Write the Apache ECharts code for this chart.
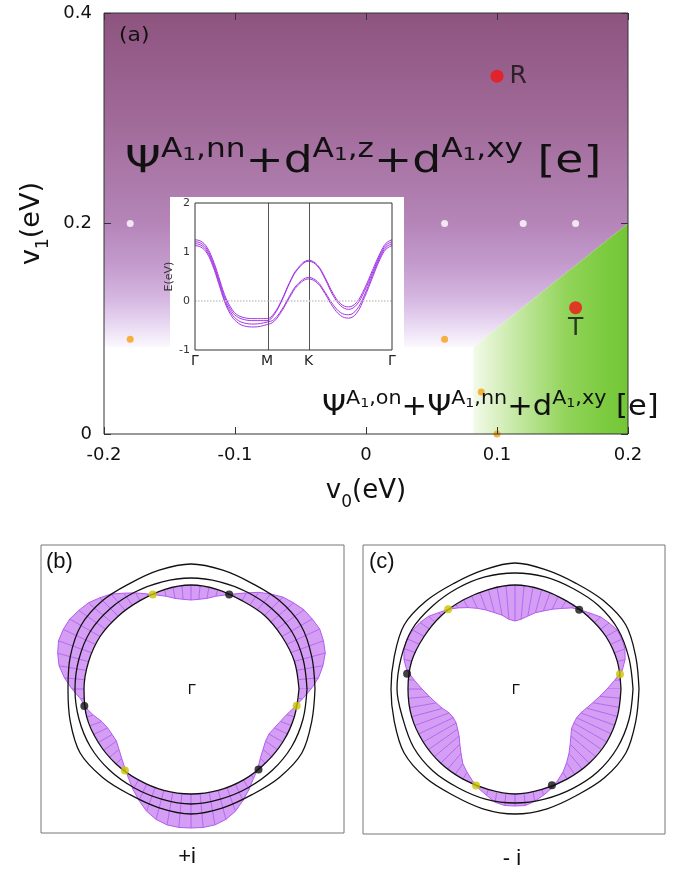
<!DOCTYPE html>
<html>
<head>
<meta charset="utf-8">
<script src="https://cdn.jsdelivr.net/npm/echarts@6/dist/echarts.min.js"></script>
<style>
html,body{margin:0;padding:0;background:#fff}
#main{width:684px;height:878px}
</style>
</head>
<body>
<div id="main"></div>
<script>
(function(){

var chart = echarts.init(document.getElementById('main'));

// ---- panel (a): phase diagram ----
var purpleV0 = [-0.2, -0.2, 0.2, 0.2, 0.082];
var purpleV1 = [0.083, 0.4, 0.4, 0.2, 0.083];
var greenV0 = [0.082, 0.082, 0.2, 0.2];
var greenV1 = [0, 0.083, 0.2, 0];
var whiteDots = [[-0.18, 0.2], [0.06, 0.2], [0.12, 0.2], [0.16, 0.2]];
var orangeDots = [[-0.18, 0.09], [0.06, 0.09], [0.088, 0.04], [0.1, 0]];
var redDots = [[0.1, 0.34], [0.16, 0.12]];
var redNames = ['R', 'T'];

// ---- inset: bands along Γ-M-K-Γ ----
var kTicks = [0, 0.366, 0.577, 1];
var kNames = ['Γ', 'M', 'K', 'Γ'];
var bandK = [0,0.03,0.06,0.09,0.12,0.15,0.18,0.21,0.25,0.30,0.366,0.40,0.44,0.48,0.52,0.577,0.62,0.66,0.70,0.74,0.78,0.82,0.86,0.90,0.94,0.97,1.0];
var bandA = [1.25,1.22,1.10,0.85,0.50,0.13,-0.12,-0.27,-0.34,-0.36,-0.36,-0.26,0.02,0.38,0.66,0.83,0.74,0.48,0.16,-0.06,-0.12,-0.03,0.25,0.62,0.98,1.18,1.25];
var bandB = [1.21,1.18,1.06,0.80,0.45,0.08,-0.17,-0.31,-0.38,-0.40,-0.40,-0.29,0.00,0.36,0.64,0.81,0.72,0.45,0.12,-0.10,-0.17,-0.08,0.20,0.57,0.94,1.14,1.21];
var bandC = [1.17,1.14,1.02,0.76,0.40,0.03,-0.22,-0.37,-0.45,-0.47,-0.43,-0.38,-0.18,0.10,0.34,0.48,0.40,0.18,-0.07,-0.24,-0.28,-0.18,0.12,0.52,0.90,1.10,1.17];
var bandD = [1.13,1.10,0.98,0.72,0.36,-0.01,-0.27,-0.42,-0.51,-0.53,-0.48,-0.42,-0.21,0.07,0.31,0.45,0.37,0.15,-0.12,-0.30,-0.35,-0.25,0.07,0.47,0.86,1.06,1.13];

// ---- panels (b),(c): Fermi contours and spin texture ----
var ang15 = [0,15,30,45,60,75,90,105,120,135,150,165,180,195,210,225,240,255,270,285,300,315,330,345];
var ang5 = [0,5,10,15,20,25,30,35,40,45,50,55,60,65,70,75,80,85,90,95,100,105,110,115,120,125,130,135,140,145,150,155,160,165,170,175,
            180,185,190,195,200,205,210,215,220,225,230,235,240,245,250,255,260,265,270,275,280,285,290,295,300,305,310,315,320,325,330,335,340,345,350,355];

var innerB = [108,108,107,107,106,106,105,105,104,104,103,103,102,102,102,103,103,104,
              104,104,103,103,102,102,102,102,103,103,104,104,105,105,106,106,107,107,
              107,107,108,108,107,107,107,106,106,106,105,105,105,105,105,105,105,105,
              105,105,105,105,105,105,105,105,105,105,106,106,106,107,107,107,107,108];
var middleB = [116,116,116,114,112,111,111,111,112,114,116,116,116,116,116,115,114,114,115,114,114,115,116,116];
var outerB = [124,125,127,125,122,123,125,123,122,125,127,125,123,125,128,125,122,123,125,123,122,125,128,125];
var spinB = [12,20,27,32,35,36,35,33,30,26,21,15,9,3,
             -2,-7,-11,-14,-15,-14,-11,-7,-2,
             3,9,15,21,26,30,33,35,36,35,32,27,20,12,4,
             -1,-7,-12,-15,-16,-15,-12,-8,-2,
             4,11,18,25,30,33,34,34,34,33,30,25,18,11,4,
             -1,-7,-12,-15,-16,-15,-12,-8,-2,4];
var blackB = [[102, 68], [108, 189], [105, 310]];
var yellowB = [[102, 112], [105, 231], [107, 351]];

var innerC = [106,106,106,106,105,105,105,104,104,103,103,103,102,102,102,103,103,104,
              104,104,104,103,103,103,103,103,104,104,105,105,105,106,106,107,107,107,
              107,107,107,107,106,106,106,106,105,105,105,105,104,104,104,104,105,105,
              105,105,104,104,104,104,104,104,105,105,105,105,106,106,106,106,106,106];
var middleC = [118,118,119,118,116,116,116,116,116,117,119,118,118,116,117,116,114,114,114,114,115,117,118,118];
var outerC = [124,125,128,125,122,123,126,123,122,125,128,125,124,125,128,126,123,124,125,124,123,126,128,125];
var spinC = [-14,-6,3,8,12,13,13,11,8,4,0,
             -4,-9,-14,-19,-24,-29,-34,-36,-34,-29,-24,-19,-14,-9,-4,
             0,4,8,11,13,13,12,8,3,
             -6,-14,-21,-27,-32,-36,-38,-38,-36,-32,-27,-21,-14,-8,-3,
             2,6,10,12,12,12,10,6,2,
             -3,-8,-14,-21,-27,-32,-36,-38,-38,-36,-32,-27,-21];
var blackC = [[102, 51], [109, 172], [103, 291]];
var yellowC = [[104, 130], [106, 8], [104, 248]];

var FONT = 'DejaVu Sans';

function regionSeries(xs, ys, fill) {
  return {
    type: 'custom', xAxisIndex: 0, yAxisIndex: 0, z: 0, silent: true, clip: false,
    data: [[xs[0], ys[0]]],
    renderItem: function (params, api) {
      var pts = xs.map(function (x, i) { return api.coord([x, ys[i]]); });
      return {type: 'polygon', shape: {points: pts}, style: {fill: fill}};
    }
  };
}

function contourSeries(radii, polarIndex) {
  var d = ang15.map(function (a, i) { return [radii[i], a]; });
  d.push([radii[0], 360]);
  return {
    type: 'line', coordinateSystem: 'polar', polarIndex: polarIndex, data: d,
    showSymbol: false, smooth: 0.35, z: 4, silent: true,
    lineStyle: {color: '#111', width: 1.3}
  };
}

function spinSeries(base, spin, polarIndex) {
  return {
    type: 'custom', coordinateSystem: 'polar', polarIndex: polarIndex, z: 3, silent: true,
    data: ang5.map(function (a, i) { return [base[i], a, spin[i]]; }),
    renderItem: function (params, api) {
      var i = params.dataIndex, n = ang5.length, j = (i + 1) % n;
      var a0 = ang5[i], a1 = j === 0 ? 360 : ang5[j];
      var p0 = api.coord([base[i], a0]), q0 = api.coord([base[i] + spin[i], a0]);
      var p1 = api.coord([base[j], a1]), q1 = api.coord([base[j] + spin[j], a1]);
      return {type: 'group', children: [
        {type: 'polygon', shape: {points: [p0, q0, q1, p1]}, style: {fill: '#d49ef5'}},
        {type: 'line', shape: {x1: p0[0], y1: p0[1], x2: q0[0], y2: q0[1]}, style: {stroke: '#b25cec', lineWidth: 0.9}},
        {type: 'line', shape: {x1: q0[0], y1: q0[1], x2: q1[0], y2: q1[1]}, style: {stroke: '#b25cec', lineWidth: 1}}
      ]};
    }
  };
}

function dotSeries(pts, color, polarIndex) {
  return {
    type: 'scatter', coordinateSystem: 'polar', polarIndex: polarIndex, z: 6, silent: true,
    symbolSize: 8, itemStyle: {color: color}, data: pts
  };
}

function bandSeries(vals) {
  return {
    type: 'line', xAxisIndex: 2, yAxisIndex: 2, z: 4, silent: true,
    showSymbol: false, smooth: 0.4,
    lineStyle: {color: '#a336e6', width: 1},
    data: bandK.map(function (k, i) { return [k, vals[i]]; })
  };
}

var inset0 = bandSeries(bandA);
inset0.markLine = {
  silent: true, symbol: 'none', label: {show: false}, animation: false,
  data: [
    {xAxis: kTicks[1], lineStyle: {color: '#555', width: 1, type: 'solid'}},
    {xAxis: kTicks[2], lineStyle: {color: '#555', width: 1, type: 'solid'}},
    {yAxis: 0, lineStyle: {color: '#c8c8c8', width: 1.5, type: 'dotted'}}
  ]
};

var subRich = {s: {fontSize: 17, verticalAlign: 'bottom', padding: [0, 0, -7, 0], fontFamily: FONT}};
var noLine = {show: false, onZero: false};

var option = {
  animation: false,
  backgroundColor: '#fff',
  grid: [
    {left: 104, top: 13, width: 524, height: 421, show: true, borderColor: '#333', borderWidth: 1, backgroundColor: 'transparent', z: 8},
    {left: 195, top: 203, width: 197, height: 147, show: true, borderColor: '#333', borderWidth: 1, backgroundColor: 'transparent', z: 8}
  ],
  xAxis: [
    {gridIndex: 0, type: 'value', min: -0.2, max: 0.2, interval: 0.1, z: 8, position: 'bottom',
     axisLine: noLine, splitLine: {show: false},
     axisTick: {inside: true, length: 7, lineStyle: {color: '#333'}},
     axisLabel: {fontSize: 18, color: '#111', margin: 12, fontFamily: FONT},
     name: 'v{s|0}(eV)', nameLocation: 'middle', nameGap: 44,
     nameTextStyle: {fontSize: 26, color: '#111', fontFamily: FONT, rich: subRich}},
    {gridIndex: 0, type: 'value', min: -0.2, max: 0.2, interval: 0.1, position: 'top', z: 8,
     axisLine: noLine, splitLine: {show: false}, axisLabel: {show: false},
     axisTick: {inside: true, length: 7, lineStyle: {color: '#333'}}},
    {gridIndex: 1, type: 'value', min: 0, max: 1, z: 8, position: 'bottom',
     axisLine: noLine, splitLine: {show: false}, axisTick: {show: false},
     axisLabel: {customValues: kTicks, fontSize: 14, color: '#222', margin: 4, fontFamily: FONT,
       showMinLabel: true, showMaxLabel: true,
       formatter: function (v) {
         var best = 0;
         kTicks.forEach(function (t, i) { if (Math.abs(t - v) < Math.abs(kTicks[best] - v)) best = i; });
         return kNames[best];
       }}}
  ],
  yAxis: [
    {gridIndex: 0, type: 'value', min: 0, max: 0.4, interval: 0.2, z: 8, position: 'left',
     axisLine: noLine, splitLine: {show: false},
     axisTick: {inside: true, length: 7, lineStyle: {color: '#333'}},
     axisLabel: {fontSize: 18, color: '#111', margin: 12, fontFamily: FONT},
     name: 'v{s|1}(eV)', nameLocation: 'middle', nameGap: 56, nameRotate: 90,
     nameTextStyle: {fontSize: 27, color: '#111', fontFamily: FONT, rich: subRich}},
    {gridIndex: 0, type: 'value', min: 0, max: 0.4, interval: 0.2, position: 'right', z: 8,
     axisLine: noLine, splitLine: {show: false}, axisLabel: {show: false},
     axisTick: {inside: true, length: 7, lineStyle: {color: '#333'}}},
    {gridIndex: 1, type: 'value', min: -1, max: 2, interval: 1, z: 8, position: 'left',
     axisLine: noLine, splitLine: {show: false}, axisTick: {show: false},
     axisLabel: {fontSize: 11, color: '#333', margin: 5, fontFamily: FONT},
     name: 'E(eV)', nameLocation: 'middle', nameGap: 16,
     nameTextStyle: {fontSize: 11, color: '#333', fontFamily: FONT}}
  ],
  polar: [
    {center: [191, 689], radius: 150},
    {center: [515, 689], radius: 150}
  ],
  angleAxis: [
    {polarIndex: 0, type: 'value', min: 0, max: 360, startAngle: 0, clockwise: false, show: false},
    {polarIndex: 1, type: 'value', min: 0, max: 360, startAngle: 0, clockwise: false, show: false}
  ],
  radiusAxis: [
    {polarIndex: 0, type: 'value', min: 0, max: 150, show: false},
    {polarIndex: 1, type: 'value', min: 0, max: 150, show: false}
  ],
  graphic: [
    {type: 'rect', z: 1, shape: {x: 170, y: 197, width: 234, height: 172}, style: {fill: '#fff'}},
    {type: 'text', z: 10, x: 119, y: 27, scaleX: 1.15, style: {text: '(a)', fontSize: 19, fontFamily: FONT, fill: '#111'}},
    {type: 'text', z: 10, x: 125, y: 137, scaleX: 1.2, style: {
      text: '{m|Ψ}{s|A}{b|1}{s|,nn}{m|+d}{s|A}{b|1}{s|,z}{m|+d}{s|A}{b|1}{s|,xy}{m| [e]}',
      fill: '#111',
      rich: {
        m: {fontSize: 38, lineHeight: 44, verticalAlign: 'bottom', fontFamily: FONT},
        s: {fontSize: 26, lineHeight: 26, verticalAlign: 'top', fontFamily: FONT},
        b: {fontSize: 18, lineHeight: 18, verticalAlign: 'top', padding: [9, 0, 0, 0], fontFamily: FONT}
      }}},
    {type: 'text', z: 10, x: 322, y: 390, scaleX: 1.09, style: {
      text: '{m|Ψ}{s|A}{b|1}{s|,on}{m|+Ψ}{s|A}{b|1}{s|,nn}{m|+d}{s|A}{b|1}{s|,xy}{m| [e]}',
      fill: '#111',
      rich: {
        m: {fontSize: 28, lineHeight: 32, verticalAlign: 'bottom', fontFamily: FONT},
        s: {fontSize: 19, lineHeight: 19, verticalAlign: 'top', fontFamily: FONT},
        b: {fontSize: 13, lineHeight: 13, verticalAlign: 'top', padding: [7, 0, 0, 0], fontFamily: FONT}
      }}},
    {type: 'rect', z: 10, shape: {x: 41, y: 545, width: 303, height: 288}, style: {fill: 'none', stroke: '#777', lineWidth: 1}},
    {type: 'rect', z: 10, shape: {x: 363, y: 545, width: 302, height: 289}, style: {fill: 'none', stroke: '#777', lineWidth: 1}},
    {type: 'text', z: 10, x: 46, y: 551, style: {text: '(b)', fontSize: 22, fontFamily: 'Liberation Sans', fill: '#111'}},
    {type: 'text', z: 10, x: 369, y: 551, style: {text: '(c)', fontSize: 22, fontFamily: 'Liberation Sans', fill: '#111'}},
    {type: 'text', z: 10, x: 192, y: 690, style: {text: 'Γ', fontSize: 15, fontFamily: 'Liberation Sans', fill: '#111', align: 'center', verticalAlign: 'middle'}},
    {type: 'text', z: 10, x: 516, y: 690, style: {text: 'Γ', fontSize: 15, fontFamily: 'Liberation Sans', fill: '#111', align: 'center', verticalAlign: 'middle'}},
    {type: 'text', z: 10, x: 187, y: 857, style: {text: '+i', fontSize: 22, fontFamily: 'Liberation Sans', fill: '#111', align: 'center', verticalAlign: 'middle'}},
    {type: 'text', z: 10, x: 512, y: 859, style: {text: '- i', fontSize: 22, fontFamily: 'Liberation Sans', fill: '#111', align: 'center', verticalAlign: 'middle'}}
  ],
  series: [
    regionSeries(purpleV0, purpleV1, {
      type: 'linear', x: 0, y: 0, x2: 0, y2: 1,
      colorStops: [
        {offset: 0, color: '#8e5480'}, {offset: 0.3, color: '#9f6896'},
        {offset: 0.5, color: '#ac7aaa'}, {offset: 0.63, color: '#b585b9'},
        {offset: 0.75, color: '#c39acc'}, {offset: 0.86, color: '#d6b8e2'},
        {offset: 0.95, color: '#ede0f5'}, {offset: 1, color: '#fbf8fd'}
      ]}),
    regionSeries(greenV0, greenV1, {
      type: 'linear', x: 0, y: 0, x2: 1, y2: 0,
      colorStops: [
        {offset: 0, color: '#f3fae9'}, {offset: 0.3, color: '#c2e79f'},
        {offset: 0.6, color: '#92d45a'}, {offset: 0.85, color: '#7ccb40'},
        {offset: 1, color: '#74c636'}
      ]}),
    {type: 'scatter', xAxisIndex: 0, yAxisIndex: 0, z: 6, silent: true, symbolSize: 7,
     itemStyle: {color: '#ffffff'}, data: whiteDots},
    {type: 'scatter', xAxisIndex: 0, yAxisIndex: 0, z: 6, silent: true, symbolSize: 7,
     itemStyle: {color: '#f5a012'}, data: orangeDots},
    {type: 'scatter', xAxisIndex: 0, yAxisIndex: 0, z: 6, silent: true, symbolSize: 13,
     itemStyle: {color: '#f21414'},
     label: {show: true, fontSize: 25, color: '#111', fontFamily: FONT,
       formatter: function (p) { return p.name; }},
     data: redDots.map(function (d, i) {
       return {value: d, name: redNames[i],
         label: i === 0 ? {position: 'right', distance: 6} : {position: 'bottom', distance: 2}};
     })},
    inset0,
    bandSeries(bandB),
    bandSeries(bandC),
    bandSeries(bandD),
    spinSeries(innerB, spinB, 0),
    contourSeries(ang15.map(function (a, i) { return innerB[i * 3]; }), 0),
    contourSeries(middleB, 0),
    contourSeries(outerB, 0),
    dotSeries(blackB, '#111', 0),
    dotSeries(yellowB, '#c9c400', 0),
    spinSeries(innerC, spinC, 1),
    contourSeries(ang15.map(function (a, i) { return innerC[i * 3]; }), 1),
    contourSeries(middleC, 1),
    contourSeries(outerC, 1),
    dotSeries(blackC, '#111', 1),
    dotSeries(yellowC, '#c9c400', 1)
  ]
};

chart.setOption(option);

})();
</script>
</body>
</html>
